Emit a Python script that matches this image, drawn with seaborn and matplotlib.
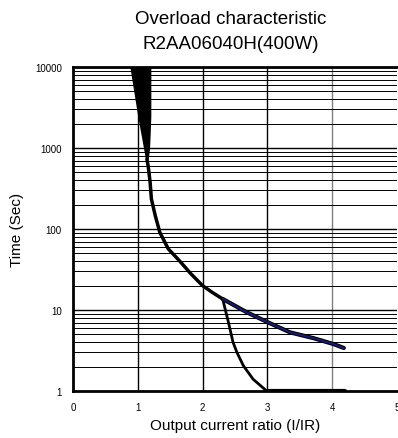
import numpy as np
import pandas as pd
import matplotlib
matplotlib.use("Agg")
import matplotlib.pyplot as plt
import seaborn as sns

# Data
band_y = [10000, 5000, 2500, 1500, 1000, 730]
band_left_x = [0.90, 0.96, 1.02, 1.07, 1.11, 1.14]
band_right_x = [1.18, 1.18, 1.18, 1.17, 1.16, 1.14]

main_x = [1.14, 1.16, 1.19, 1.21, 1.27, 1.34, 1.47, 1.65, 1.82, 2.00, 2.15, 2.31]
main_y = [730, 600, 380, 235, 146, 91, 57, 40, 28, 20, 16.5, 13.7]

upper_x = [2.31, 2.50, 2.68, 3.00, 3.35, 3.71, 4.02, 4.18]
upper_y = [13.7, 11.3, 9.4, 7.1, 5.3, 4.5, 3.8, 3.4]

lower_x = [2.31, 2.40, 2.47, 2.53, 2.63, 2.78, 2.99, 3.50, 4.20]
lower_y = [13.7, 7.0, 4.0, 3.0, 2.05, 1.4, 1.0, 1.0, 1.0]

sns.set_theme(style="white")
plt.rcParams['font.family'] = ['Liberation Sans', 'DejaVu Sans']
plt.rcParams['text.color'] = 'black'

fig = plt.figure(figsize=(3.98, 4.39), dpi=100)
ax = fig.add_axes([0.1834, 0.107, 0.814, 0.738])

# Grid
for v in range(1, 5):
    ax.axvline(v, color='gray' if v == 4 else 'black', lw=1.0, zorder=1)
for dec in [1, 10, 100, 1000]:
    for m in range(2, 10):
        ax.axhline(dec * m, color='black', lw=0.7, zorder=1)
    ax.axhline(dec * 10, color='black', lw=1.0, zorder=1)

ax.fill_betweenx(band_y, band_left_x, band_right_x, color='black', lw=2, zorder=3)

sns.lineplot(x=main_x, y=main_y, ax=ax, color='black', lw=2.5, sort=False, estimator=None, zorder=4)
sns.lineplot(x=upper_x, y=upper_y, ax=ax, color='black', lw=3.0, sort=False, estimator=None, zorder=4)
sns.lineplot(x=upper_x, y=upper_y, ax=ax, color='#1a1a6e', lw=1.5, sort=False, estimator=None, zorder=5)
sns.lineplot(x=lower_x[:7], y=lower_y[:7], ax=ax, color='black', lw=2.0, sort=False, estimator=None, zorder=4)
sns.lineplot(x=lower_x[6:], y=lower_y[6:], ax=ax, color='black', lw=3.0, sort=False, estimator=None, zorder=4)

ax.set_yscale('log')
ax.set_xlim(0, 5)
ax.set_ylim(1, 10000)
ax.set_xticks([0, 1, 2, 3, 4, 5])
ax.set_xticklabels(['0', '1', '2', '3', '4', '5'])
ax.set_yticks([1, 10, 100, 1000, 10000])
ax.set_yticklabels(['1', '10', '100', '1000', '10000'])
ax.minorticks_off()
ax.tick_params(axis='both', length=0, labelsize=7, colors='black', pad=8)

for s in ['left', 'bottom', 'top']:
    ax.spines[s].set_color('black')
    ax.spines[s].set_linewidth(2)
ax.spines['right'].set_visible(False)

fig.text(0.58, 0.955, 'Overload characteristic', ha='center', va='center', fontsize=13.5, color='black')
fig.text(0.58, 0.898, 'R2AA06040H(400W)', ha='center', va='center', fontsize=13.5, color='black')
ax.set_xlabel('Output current ratio (I/IR)', fontsize=11, color='black', labelpad=4)
ax.set_ylabel('Time (Sec)', fontsize=11, color='black', labelpad=8)

fig.savefig('out.png', dpi=100)
